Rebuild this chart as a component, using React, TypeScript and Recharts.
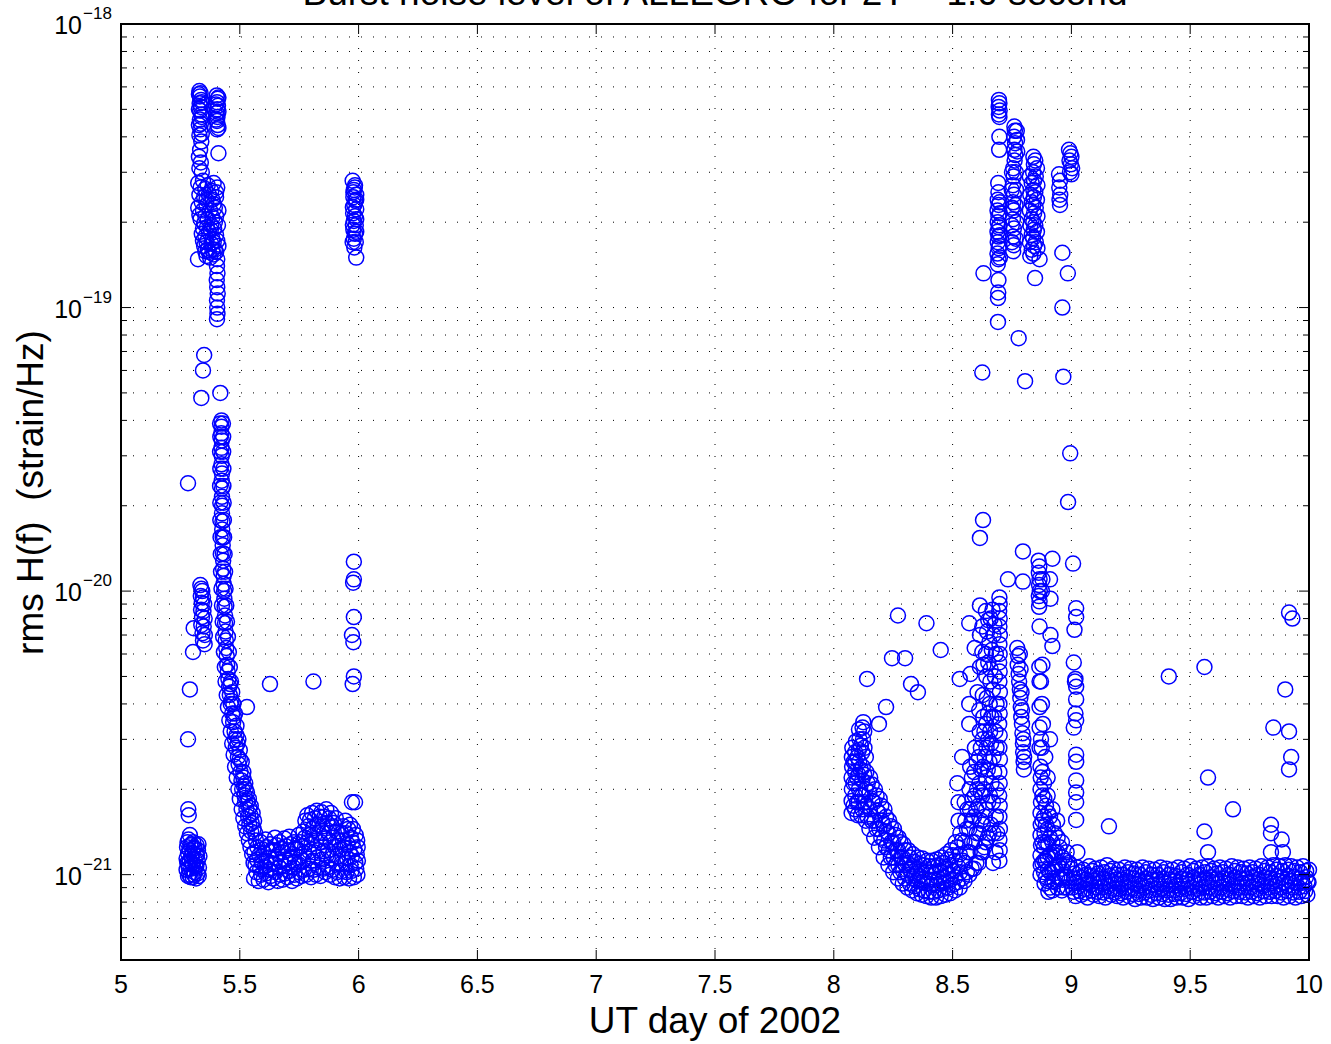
import React from 'react';
import { ScatterChart, Scatter, XAxis, YAxis, CartesianGrid, ReferenceArea } from 'recharts';

// plot box in page pixels
const LEFT = 121;
const RIGHT = 1309;
const TOP = 24;
const BOTTOM = 960;
const FONT = '"Liberation Sans", Arial, Helvetica, sans-serif';

// rms H(f) values below are in units of 1e-21 strain/Hz
const UNIT = 1e-21;

const xTicks = [5, 5.5, 6, 6.5, 7, 7.5, 8, 8.5, 9, 9.5, 10];
const yTicks = [
  5e-22, 6e-22, 7e-22, 8e-22, 9e-22,
  1e-21, 2e-21, 3e-21, 4e-21, 5e-21, 6e-21, 7e-21, 8e-21, 9e-21,
  1e-20, 2e-20, 3e-20, 4e-20, 5e-20, 6e-20, 7e-20, 8e-20, 9e-20,
  1e-19, 2e-19, 3e-19, 4e-19, 5e-19, 6e-19, 7e-19, 8e-19, 9e-19,
  1e-18,
];

// day 5 - 6
const earlyBottom = [[5.276,1.04],[5.276,1.14],[5.278,1.25],[5.282,0.99],[5.283,1.09],[5.282,1.19],[5.284,1.33],[5.288,1.0],[5.29,1.12],[5.289,1.22],[5.29,1.38],[5.295,1.05],[5.296,1.16],[5.297,1.28],[5.302,0.98],[5.303,1.08],[5.302,1.19],[5.304,1.3],[5.309,1.02],[5.31,1.13],[5.31,1.24],[5.316,0.97],[5.317,1.07],[5.316,1.17],[5.318,1.27],[5.322,1.01],[5.323,1.12],[5.324,1.22],[5.328,1.06],[5.33,1.16],[5.279,1.1],[5.286,1.05],[5.292,1.27],[5.299,1.1],[5.306,1.24],[5.313,1.08],[5.32,1.17],[5.326,1.28],[5.28,1.3],[5.293,0.98],[5.307,1.0],[5.327,0.99]];
const earlyStragglers = [[5.283,1.7],[5.285,1.62],[5.282,3.0],[5.29,4.5],[5.303,6.1],[5.306,7.4],[5.282,24],[5.338,48],[5.418,50],[5.35,68],[5.345,60],[5.324,148],[5.53,3.9],[5.627,4.7],[5.81,4.8]];
const earlyMid = [[5.334,10.5],[5.338,10.2],[5.342,10.0],[5.336,9.6],[5.345,9.5],[5.34,9.1],[5.35,9.0],[5.337,8.6],[5.347,8.5],[5.341,8.1],[5.352,8.0],[5.338,7.6],[5.348,7.5],[5.343,7.1],[5.353,7.0],[5.345,6.7],[5.352,6.5]];
const earlyTopLeft = [[5.33,580],[5.335,570],[5.332,555],[5.337,540],[5.331,525],[5.336,510],[5.333,495],[5.338,480],[5.332,460],[5.336,445],[5.334,425],[5.33,405],[5.338,385],[5.333,360],[5.328,340],[5.336,325],[5.33,310],[5.34,300],[5.328,565],[5.34,530],[5.328,500],[5.34,470],[5.328,440],[5.34,410]];
const earlyTopRight = [[5.403,560],[5.407,545],[5.404,530],[5.408,515],[5.405,500],[5.402,485],[5.406,470],[5.404,455],[5.407,440],[5.405,425],[5.41,350],[5.41,550],[5.4,520],[5.41,490],[5.4,460],[5.41,430]];
const earlyMass = [[5.325,275],[5.345,280],[5.365,270],[5.39,275],[5.405,265],[5.33,250],[5.35,245],[5.37,250],[5.385,240],[5.4,245],[5.325,225],[5.345,220],[5.36,230],[5.375,220],[5.395,225],[5.41,220],[5.335,205],[5.35,198],[5.365,205],[5.38,195],[5.395,200],[5.408,195],[5.34,182],[5.355,178],[5.37,185],[5.385,175],[5.4,180],[5.35,165],[5.365,160],[5.38,168],[5.395,160],[5.41,165],[5.36,152],[5.375,150],[5.39,154],[5.405,148],[5.335,265],[5.355,262],[5.38,258],[5.4,255],[5.34,235],[5.36,240],[5.39,232],[5.33,212],[5.355,210],[5.385,208],[5.4,210],[5.345,190],[5.362,192],[5.378,188],[5.392,190],[5.345,172],[5.36,170],[5.39,170],[5.405,172],[5.355,158],[5.37,157],[5.385,160],[5.4,157]];
const earlyTail = [[5.404,140],[5.406,132],[5.403,125],[5.405,118],[5.407,112],[5.404,106],[5.405,100],[5.406,95],[5.404,91]];
const decayFive = [[5.423,40],[5.423,38],[5.422,36],[5.424,34],[5.423,32],[5.424,30],[5.423,28],[5.425,26],[5.424,24.5],[5.425,23],[5.425,21.5],[5.426,20],[5.425,18.8],[5.427,17.6],[5.426,16.5],[5.428,15.5],[5.428,14.5],[5.429,13.6],[5.43,12.8],[5.43,12],[5.432,11.3],[5.432,10.6],[5.434,10],[5.435,9.4],[5.436,8.8],[5.438,8.2],[5.438,7.7],[5.44,7.2],[5.441,6.7],[5.443,6.3],[5.445,5.9],[5.447,5.5],[5.449,5.2],[5.452,4.9],[5.455,4.6],[5.46,4.7],[5.458,4.3],[5.465,4.1],[5.462,4.0],[5.468,3.7],[5.475,3.6],[5.472,3.45],[5.478,3.2],[5.486,3.1],[5.48,3.0],[5.49,2.9],[5.483,2.8],[5.492,2.6],[5.5,2.55],[5.495,2.45],[5.503,2.3],[5.507,2.15],[5.515,2.2],[5.51,2.0],[5.518,2.05],[5.525,2.0],[5.52,1.9],[5.522,1.8],[5.532,1.82],[5.528,1.7],[5.54,1.72],[5.535,1.6],[5.545,1.62],[5.54,1.5],[5.55,1.52],[5.548,1.42],[5.558,1.45]];
const decayFiveEdges = [[5.417,39],[5.418,35],[5.417,31],[5.418,27],[5.417,23.5],[5.418,20.5],[5.418,17.8],[5.419,15.5],[5.42,13.5],[5.421,11.7],[5.423,10.2],[5.425,8.9],[5.428,7.8],[5.43,6.9],[5.433,6.1],[5.437,5.4],[5.44,4.8],[5.445,4.3],[5.45,3.9],[5.456,3.5],[5.462,3.2],[5.468,2.9],[5.474,2.65],[5.48,2.4],[5.487,2.2],[5.494,2.0],[5.5,1.85],[5.508,1.7],[5.515,1.58],[5.523,1.48],[5.53,1.4],[5.538,1.32],[5.545,1.25],[5.552,1.18],[5.558,1.1],[5.429,39],[5.43,35],[5.43,31],[5.431,27],[5.431,23.5],[5.432,20.5],[5.433,17.8],[5.434,15.5],[5.436,13.5],[5.438,11.7],[5.44,10.2],[5.443,8.9],[5.446,7.8],[5.45,6.9],[5.454,6.1],[5.458,5.4],[5.463,4.8],[5.468,4.4],[5.473,4.0],[5.48,3.7],[5.486,3.35],[5.494,3.0],[5.5,2.75],[5.508,2.5],[5.515,2.3],[5.523,2.1],[5.53,1.95],[5.538,1.85],[5.546,1.75],[5.554,1.65],[5.56,1.55],[5.565,1.4]];
const bandFive = [[5.56,0.97],[5.566,1.08],[5.562,1.2],[5.568,1.32],[5.58,0.95],[5.586,1.05],[5.582,1.17],[5.588,1.3],[5.6,0.96],[5.606,1.07],[5.602,1.19],[5.608,1.33],[5.62,0.94],[5.626,1.04],[5.622,1.15],[5.628,1.28],[5.64,0.97],[5.646,1.09],[5.642,1.22],[5.648,1.35],[5.66,0.95],[5.666,1.06],[5.662,1.18],[5.668,1.3],[5.68,0.96],[5.686,1.07],[5.682,1.2],[5.688,1.34],[5.7,0.98],[5.706,1.1],[5.702,1.22],[5.708,1.36],[5.72,0.95],[5.726,1.06],[5.722,1.18],[5.728,1.3],[5.74,0.97],[5.746,1.09],[5.742,1.23],[5.748,1.38],[5.76,0.99],[5.766,1.12],[5.762,1.26],[5.768,1.42],[5.78,1.0],[5.786,1.14],[5.782,1.3],[5.788,1.48],[5.784,1.62],[5.8,0.98],[5.806,1.12],[5.802,1.28],[5.808,1.46],[5.804,1.65],[5.82,1.0],[5.826,1.15],[5.822,1.32],[5.828,1.5],[5.824,1.68],[5.84,0.99],[5.846,1.13],[5.842,1.3],[5.848,1.48],[5.844,1.66],[5.86,1.02],[5.866,1.17],[5.862,1.34],[5.868,1.52],[5.864,1.7],[5.88,1.0],[5.886,1.14],[5.882,1.3],[5.888,1.48],[5.884,1.65],[5.9,0.98],[5.906,1.1],[5.902,1.25],[5.908,1.42],[5.904,1.58],[5.92,0.97],[5.926,1.09],[5.922,1.23],[5.928,1.4],[5.94,0.98],[5.946,1.1],[5.942,1.24],[5.948,1.4],[5.944,1.55],[5.96,0.97],[5.966,1.08],[5.962,1.2],[5.968,1.35],[5.964,1.5],[5.98,0.98],[5.986,1.1],[5.982,1.23],[5.988,1.38],[5.972,1.8],[5.985,1.8],[5.995,1.0],[5.997,1.12],[5.996,1.25]];
const bandFiveFill = [[5.57,1.02],[5.572,1.13],[5.574,1.25],[5.59,1.0],[5.592,1.11],[5.594,1.23],[5.61,1.01],[5.612,1.12],[5.614,1.25],[5.63,0.99],[5.632,1.1],[5.634,1.22],[5.65,1.02],[5.652,1.14],[5.654,1.27],[5.67,1.0],[5.672,1.11],[5.674,1.24],[5.69,1.01],[5.692,1.13],[5.694,1.26],[5.71,1.03],[5.712,1.15],[5.714,1.28],[5.73,1.0],[5.732,1.11],[5.734,1.24],[5.75,1.02],[5.752,1.15],[5.754,1.3],[5.77,1.04],[5.772,1.19],[5.774,1.35],[5.776,1.55],[5.79,1.05],[5.792,1.21],[5.794,1.38],[5.796,1.56],[5.81,1.04],[5.812,1.2],[5.814,1.38],[5.816,1.58],[5.83,1.06],[5.832,1.22],[5.834,1.4],[5.836,1.6],[5.85,1.05],[5.852,1.21],[5.854,1.4],[5.856,1.6],[5.87,1.06],[5.872,1.22],[5.874,1.4],[5.876,1.58],[5.89,1.04],[5.892,1.18],[5.894,1.35],[5.896,1.52],[5.91,1.02],[5.912,1.16],[5.914,1.32],[5.93,1.03],[5.932,1.16],[5.934,1.32],[5.936,1.48],[5.95,1.02],[5.952,1.14],[5.954,1.28],[5.956,1.45],[5.97,1.03],[5.972,1.16],[5.974,1.3],[5.976,1.45],[5.99,1.05],[5.992,1.18],[5.994,1.32]];
const sixUpper = [[5.975,280],[5.985,270],[5.98,260],[5.99,250],[5.978,245],[5.986,238],[5.982,230],[5.99,222],[5.977,215],[5.985,210],[5.98,202],[5.988,195],[5.978,188],[5.985,182],[5.98,175],[5.988,170],[5.982,163],[5.99,150],[5.984,265],[5.978,255],[5.99,240],[5.976,226],[5.99,205],[5.976,196],[5.99,185],[5.975,170]];
const sixLower = [[5.98,12.7],[5.98,11.0],[5.977,10.7],[5.98,8.1],[5.972,7.0],[5.978,6.6],[5.98,5.0],[5.975,4.7]];

// day 8 - 10
const riseEight = [[8.075,1.65],[8.075,1.82],[8.076,2.0],[8.075,2.2],[8.077,2.4],[8.076,2.6],[8.078,2.8],[8.09,1.7],[8.09,1.9],[8.092,2.1],[8.09,2.3],[8.091,2.5],[8.09,2.7],[8.093,2.95],[8.105,1.8],[8.106,2.0],[8.104,2.25],[8.107,2.5],[8.105,2.75],[8.108,3.0],[8.106,3.25],[8.12,1.7],[8.121,1.9],[8.12,2.15],[8.122,2.4],[8.12,2.7],[8.123,3.0],[8.121,3.3],[8.124,3.45],[8.135,1.55],[8.136,1.75],[8.134,2.0],[8.137,2.3],[8.135,2.6],[8.083,1.75],[8.083,2.1],[8.084,2.5],[8.098,1.8],[8.098,2.2],[8.099,2.6],[8.113,1.9],[8.113,2.35],[8.114,2.85],[8.128,1.8],[8.128,2.25],[8.129,2.8],[8.128,3.2],[8.142,1.6],[8.143,2.1],[8.1,1.62],[8.115,1.62]];
const decayEight = [[8.15,1.45],[8.152,1.7],[8.15,1.95],[8.153,2.2],[8.17,1.35],[8.172,1.55],[8.17,1.8],[8.173,2.0],[8.19,1.25],[8.192,1.45],[8.19,1.65],[8.193,1.85],[8.21,1.15],[8.212,1.32],[8.21,1.5],[8.213,1.7],[8.23,1.08],[8.232,1.22],[8.23,1.4],[8.233,1.55],[8.25,1.02],[8.252,1.15],[8.25,1.3],[8.253,1.45],[8.27,0.97],[8.272,1.08],[8.27,1.22],[8.273,1.35],[8.29,0.93],[8.292,1.03],[8.29,1.15],[8.293,1.28],[8.31,0.9],[8.312,1.0],[8.31,1.1],[8.313,1.22],[8.33,0.88],[8.332,0.97],[8.33,1.07],[8.333,1.18],[8.35,0.86],[8.352,0.95],[8.35,1.05],[8.353,1.15],[8.37,0.85],[8.372,0.94],[8.37,1.03],[8.373,1.14],[8.39,0.84],[8.392,0.93],[8.39,1.02],[8.393,1.12],[8.41,0.83],[8.412,0.92],[8.41,1.02],[8.413,1.12],[8.43,0.83],[8.432,0.92],[8.43,1.02],[8.433,1.13],[8.45,0.84],[8.452,0.93],[8.45,1.03],[8.453,1.15],[8.47,0.85],[8.472,0.94],[8.47,1.05],[8.473,1.18],[8.49,0.86],[8.492,0.96],[8.49,1.08],[8.493,1.22],[8.51,0.88],[8.512,0.98],[8.51,1.12],[8.513,1.3],[8.53,0.9],[8.532,1.02],[8.53,1.18],[8.533,1.4]];
const decayEightFill = [[8.16,1.55],[8.162,1.82],[8.16,2.08],[8.18,1.45],[8.182,1.68],[8.18,1.9],[8.2,1.35],[8.202,1.55],[8.2,1.75],[8.22,1.25],[8.222,1.42],[8.22,1.6],[8.24,1.15],[8.242,1.3],[8.24,1.48],[8.26,1.08],[8.262,1.22],[8.26,1.38],[8.28,1.02],[8.282,1.15],[8.28,1.3],[8.3,0.97],[8.302,1.08],[8.3,1.22],[8.32,0.93],[8.322,1.04],[8.32,1.15],[8.34,0.91],[8.342,1.01],[8.34,1.11],[8.36,0.89],[8.362,0.99],[8.36,1.09],[8.38,0.88],[8.382,0.97],[8.38,1.08],[8.4,0.87],[8.402,0.96],[8.4,1.07],[8.42,0.87],[8.422,0.96],[8.42,1.07],[8.44,0.88],[8.442,0.97],[8.44,1.08],[8.46,0.89],[8.462,0.98],[8.46,1.1],[8.48,0.9],[8.482,1.0],[8.48,1.13],[8.5,0.92],[8.502,1.03],[8.5,1.17],[8.52,0.94],[8.522,1.07],[8.52,1.25],[8.54,0.97],[8.542,1.12],[8.54,1.32]];
const climbEight = [[8.55,0.95],[8.552,1.1],[8.55,1.3],[8.553,1.55],[8.551,1.8],[8.57,1.0],[8.572,1.2],[8.57,1.45],[8.573,1.7],[8.571,2.0],[8.574,2.4],[8.59,1.05],[8.592,1.3],[8.59,1.6],[8.593,1.9],[8.591,2.3],[8.594,2.8],[8.61,1.1],[8.612,1.4],[8.61,1.75],[8.613,2.1],[8.611,2.6],[8.614,3.2],[8.612,3.8],[8.625,1.2],[8.627,1.5],[8.625,1.9],[8.628,2.4],[8.626,3.0],[8.629,3.6],[8.627,4.3],[8.64,1.3],[8.642,1.7],[8.64,2.2],[8.643,2.8],[8.641,3.4],[8.644,4.2],[8.642,5.0],[8.655,1.4],[8.657,1.9],[8.655,2.5],[8.658,3.2],[8.656,4.0],[8.659,4.8],[8.67,1.1],[8.672,1.4],[8.67,1.8],[8.675,2.3],[8.68,1.2],[8.682,1.6]];
const climbEightFill = [[8.56,1.02],[8.562,1.2],[8.56,1.45],[8.563,1.7],[8.58,1.05],[8.582,1.3],[8.58,1.55],[8.583,1.85],[8.581,2.2],[8.6,1.1],[8.602,1.4],[8.6,1.7],[8.603,2.0],[8.601,2.5],[8.618,1.2],[8.62,1.55],[8.618,1.95],[8.62,2.35],[8.619,2.8],[8.633,1.25],[8.635,1.6],[8.633,2.0],[8.635,2.6],[8.634,3.2],[8.648,1.35],[8.65,1.8],[8.648,2.35],[8.65,3.0],[8.649,3.7],[8.662,1.5],[8.664,2.1],[8.662,2.9],[8.663,3.6]];
const climbEightTop = [[8.63,5.5],[8.66,5.3],[8.67,4.5],[8.665,6.2],[8.672,7.0],[8.66,8.0],[8.675,3.6],[8.685,2.8],[8.68,3.2],[8.686,2.0],[8.688,1.4],[8.672,2.6],[8.685,4.0],[8.678,5.0],[8.668,8.6],[8.682,6.0],[8.676,7.6]];
const needle = [[8.697,9.5],[8.698,9.0],[8.696,8.5],[8.698,8.0],[8.697,7.5],[8.699,7.0],[8.697,6.5],[8.698,6.0],[8.696,5.6],[8.698,5.2],[8.697,4.8],[8.699,4.4],[8.697,4.0],[8.698,3.7],[8.696,3.4],[8.698,3.1],[8.697,2.8],[8.699,2.55],[8.697,2.3],[8.698,2.1],[8.696,1.9],[8.698,1.75],[8.697,1.6],[8.699,1.45],[8.697,1.33],[8.698,1.22],[8.697,1.12]];
const column878 = [[8.772,6.3],[8.776,5.9],[8.774,5.5],[8.778,5.1],[8.78,4.8],[8.783,4.5],[8.785,4.2],[8.787,3.9],[8.789,3.6],[8.792,3.4],[8.794,3.15],[8.796,2.9],[8.797,2.7],[8.799,2.5],[8.8,2.35],[8.783,6.0],[8.786,5.3],[8.79,4.4],[8.792,3.8],[8.798,3.0],[8.801,2.6]];
const column887 = [[8.862,12.8],[8.865,12.2],[8.863,11.6],[8.866,11.0],[8.864,10.5],[8.867,10.0],[8.863,9.6],[8.866,9.2],[8.864,8.8],[8.878,11.0],[8.876,10.0],[8.866,7.5],[8.912,7.0],[8.92,6.4],[8.91,11.0],[8.912,9.4],[8.865,5.4],[8.866,4.8],[8.866,3.9],[8.866,3.3],[8.866,2.8],[8.91,3.0]];
const dropNine = [[8.87,2.4],[8.871,2.2],[8.87,2.0],[8.872,1.8],[8.87,1.65],[8.871,1.5],[8.87,1.38],[8.872,1.27],[8.87,1.17],[8.871,1.08],[8.87,1.0],[8.885,2.1],[8.886,1.85],[8.885,1.6],[8.887,1.4],[8.885,1.25],[8.886,1.12],[8.885,1.02],[8.887,0.93],[8.9,1.9],[8.902,1.65],[8.9,1.45],[8.903,1.28],[8.9,1.15],[8.902,1.04],[8.9,0.95],[8.903,0.87],[8.92,1.7],[8.922,1.5],[8.92,1.3],[8.923,1.15],[8.92,1.04],[8.922,0.95],[8.92,0.88],[8.94,1.55],[8.942,1.35],[8.94,1.2],[8.943,1.08],[8.94,0.98],[8.942,0.9],[8.96,1.3],[8.962,1.15],[8.96,1.05],[8.963,0.96],[8.96,0.88],[8.98,1.2],[8.982,1.08],[8.98,0.98],[8.983,0.9],[8.875,2.8],[8.872,3.0],[8.88,3.4],[8.876,4.0],[8.872,4.8],[8.878,5.5],[8.89,2.6],[8.9,2.2]];
const dropNineFill = [[8.878,2.3],[8.878,1.9],[8.878,1.55],[8.878,1.3],[8.878,1.1],[8.893,1.75],[8.893,1.5],[8.893,1.3],[8.893,1.12],[8.893,0.98],[8.91,1.6],[8.91,1.35],[8.91,1.18],[8.91,1.02],[8.91,0.9],[8.93,1.4],[8.93,1.2],[8.93,1.06],[8.93,0.94],[8.95,1.25],[8.95,1.1],[8.95,0.97],[8.97,1.12],[8.97,1.0],[8.97,0.9],[8.99,1.1],[8.99,0.95]];
const columnNine = [[9.02,8.7],[9.02,8.1],[9.013,7.3],[9.01,5.6],[9.017,4.9],[9.015,4.8],[9.02,4.6],[9.02,4.15],[9.017,3.7],[9.02,3.5],[9.01,3.3],[9.02,2.65],[9.02,2.5],[9.02,2.15],[9.02,1.95],[9.02,1.8],[9.02,1.56],[9.025,1.2],[9.007,12.5],[8.986,20.6],[8.995,30.6]];
const bandNine = [[9.0,1.05],[9.012,0.97],[9.006,0.9],[9.018,0.84],[9.025,1.06],[9.037,0.98],[9.031,0.91],[9.043,0.85],[9.05,1.04],[9.062,0.96],[9.056,0.89],[9.068,0.83],[9.075,1.07],[9.087,0.99],[9.081,0.92],[9.093,0.85],[9.1,1.05],[9.112,0.97],[9.106,0.9],[9.118,0.84],[9.125,1.06],[9.137,0.97],[9.131,0.9],[9.143,0.83],[9.15,1.08],[9.162,0.99],[9.156,0.91],[9.168,0.85],[9.175,1.05],[9.187,0.96],[9.181,0.89],[9.193,0.84],[9.2,1.04],[9.212,0.96],[9.206,0.89],[9.218,0.83],[9.225,1.06],[9.237,0.98],[9.231,0.9],[9.243,0.84],[9.25,1.05],[9.262,0.97],[9.256,0.89],[9.268,0.82],[9.275,1.04],[9.287,0.95],[9.281,0.88],[9.293,0.83],[9.3,1.06],[9.312,0.97],[9.306,0.9],[9.318,0.83],[9.325,1.05],[9.337,0.96],[9.331,0.88],[9.343,0.82],[9.35,1.04],[9.362,0.96],[9.356,0.89],[9.368,0.83],[9.375,1.06],[9.387,0.97],[9.381,0.89],[9.393,0.82],[9.4,1.05],[9.412,0.96],[9.406,0.88],[9.418,0.82],[9.425,1.04],[9.437,0.95],[9.431,0.88],[9.443,0.83],[9.45,1.06],[9.462,0.97],[9.456,0.89],[9.468,0.83],[9.475,1.05],[9.487,0.96],[9.481,0.89],[9.493,0.82],[9.5,1.07],[9.512,0.98],[9.506,0.9],[9.518,0.84],[9.525,1.05],[9.537,0.96],[9.531,0.89],[9.543,0.83],[9.55,1.06],[9.562,0.97],[9.556,0.9],[9.568,0.83],[9.575,1.07],[9.587,0.98],[9.581,0.9],[9.593,0.84],[9.6,1.05],[9.612,0.97],[9.606,0.89],[9.618,0.83],[9.625,1.06],[9.637,0.97],[9.631,0.9],[9.643,0.84],[9.65,1.05],[9.662,0.96],[9.656,0.89],[9.668,0.83],[9.675,1.07],[9.687,0.98],[9.681,0.91],[9.693,0.84],[9.7,1.06],[9.712,0.97],[9.706,0.9],[9.718,0.84],[9.725,1.05],[9.737,0.97],[9.731,0.9],[9.743,0.83],[9.75,1.06],[9.762,0.98],[9.756,0.9],[9.768,0.84],[9.775,1.05],[9.787,0.96],[9.781,0.89],[9.793,0.83],[9.8,1.07],[9.812,0.98],[9.806,0.91],[9.818,0.84],[9.825,1.06],[9.837,0.97],[9.831,0.9],[9.843,0.84],[9.85,1.08],[9.862,0.99],[9.856,0.91],[9.868,0.84],[9.875,1.07],[9.887,0.98],[9.881,0.9],[9.893,0.83],[9.9,1.08],[9.912,0.99],[9.906,0.91],[9.918,0.84],[9.925,1.07],[9.937,0.98],[9.931,0.9],[9.943,0.83],[9.95,1.06],[9.962,0.97],[9.956,0.9],[9.968,0.84],[9.975,1.07],[9.987,0.98],[9.981,0.91],[9.993,0.85],[10.0,1.04],[9.998,0.94]];
const bandNineFill = [[9.013,1.01],[9.019,0.935],[9.009,0.87],[9.038,1.02],[9.044,0.94],[9.034,0.875],[9.063,1.0],[9.069,0.93],[9.059,0.865],[9.088,1.03],[9.094,0.95],[9.084,0.88],[9.113,1.01],[9.119,0.935],[9.109,0.87],[9.138,1.02],[9.144,0.935],[9.134,0.865],[9.163,1.03],[9.169,0.95],[9.159,0.875],[9.188,1.0],[9.194,0.93],[9.184,0.865],[9.213,1.0],[9.219,0.925],[9.209,0.86],[9.238,1.02],[9.244,0.94],[9.234,0.87],[9.263,1.01],[9.269,0.93],[9.259,0.855],[9.288,1.0],[9.294,0.915],[9.284,0.855],[9.313,1.02],[9.319,0.935],[9.309,0.865],[9.338,1.0],[9.344,0.92],[9.334,0.85],[9.363,1.0],[9.369,0.925],[9.359,0.86],[9.388,1.02],[9.394,0.93],[9.384,0.855],[9.413,1.0],[9.419,0.92],[9.409,0.85],[9.438,0.99],[9.444,0.915],[9.434,0.855],[9.463,1.02],[9.469,0.93],[9.459,0.86],[9.488,1.0],[9.494,0.925],[9.484,0.855],[9.513,1.03],[9.519,0.94],[9.509,0.87],[9.538,1.0],[9.544,0.925],[9.534,0.86],[9.563,1.02],[9.569,0.935],[9.559,0.865],[9.588,1.03],[9.594,0.94],[9.584,0.87],[9.613,1.01],[9.619,0.93],[9.609,0.86],[9.638,1.02],[9.644,0.935],[9.634,0.87],[9.663,1.0],[9.669,0.925],[9.659,0.86],[9.688,1.03],[9.694,0.945],[9.684,0.875],[9.713,1.02],[9.719,0.935],[9.709,0.87],[9.738,1.01],[9.744,0.935],[9.734,0.865],[9.763,1.02],[9.769,0.94],[9.759,0.87],[9.788,1.0],[9.794,0.925],[9.784,0.86],[9.813,1.03],[9.819,0.945],[9.809,0.875],[9.838,1.02],[9.844,0.935],[9.834,0.87],[9.863,1.04],[9.869,0.95],[9.859,0.875],[9.888,1.03],[9.894,0.94],[9.884,0.865],[9.913,1.04],[9.919,0.95],[9.909,0.875],[9.938,1.03],[9.944,0.94],[9.934,0.865],[9.963,1.02],[9.969,0.935],[9.959,0.87],[9.988,1.03],[9.994,0.945],[9.984,0.875]];
const scatterEight = [[8.14,4.9],[8.27,8.2],[8.39,7.7],[8.22,3.9],[8.19,3.4],[8.245,5.8],[8.3,5.8],[8.325,4.7],[8.354,4.4],[8.45,6.2],[8.615,8.9],[8.57,7.7],[8.625,7.5],[8.615,7.0],[8.593,6.3],[8.625,6.1],[8.615,5.4],[8.575,5.1],[8.53,4.9],[8.605,4.4],[8.57,4.0],[8.57,3.4],[8.54,2.6],[8.52,2.1],[8.525,1.8],[8.525,1.55],[8.628,17.8],[8.615,15.4],[8.733,11.0],[8.796,13.8],[8.796,10.8],[8.92,13.0],[8.64,8.5],[8.65,7.9],[8.645,7.2],[8.655,6.6],[8.64,6.0],[8.65,5.6]];
const scatterNine = [[9.41,5.0],[9.56,5.4],[9.575,2.2],[9.68,1.7],[9.158,1.48],[9.56,1.42],[9.575,1.2],[9.916,8.4],[9.93,8.0],[9.9,4.5],[9.85,3.3],[9.916,3.2],[9.925,2.6],[9.916,2.35],[9.84,1.5],[9.84,1.4],[9.885,1.33],[9.89,1.2],[9.84,1.2]];
const upper869 = [[8.695,540],[8.697,525],[8.694,510],[8.698,495],[8.695,480],[8.697,470],[8.697,400],[8.696,360],[8.692,275],[8.693,255],[8.69,240],[8.694,230],[8.689,220],[8.693,210],[8.69,200],[8.694,192],[8.689,185],[8.693,178],[8.69,170],[8.694,162],[8.689,155],[8.693,148],[8.69,142],[8.693,125],[8.692,113],[8.691,108],[8.691,89],[8.698,235],[8.699,215],[8.697,195],[8.699,180],[8.697,165],[8.699,150]];
const upper876 = [[8.76,435],[8.762,420],[8.759,400],[8.763,380],[8.76,360],[8.764,345],[8.761,330],[8.755,310],[8.757,290],[8.754,270],[8.758,250],[8.755,235],[8.757,220],[8.754,205],[8.758,190],[8.755,178],[8.757,166],[8.755,158],[8.766,300],[8.767,260],[8.765,230],[8.768,200],[8.766,175],[8.77,420],[8.771,390],[8.772,355],[8.75,300],[8.749,260],[8.75,225],[8.749,195],[8.75,170]];
const upper884 = [[8.84,340],[8.842,320],[8.839,300],[8.843,280],[8.84,260],[8.842,245],[8.839,230],[8.843,215],[8.84,200],[8.842,188],[8.839,176],[8.843,165],[8.84,155],[8.855,310],[8.857,270],[8.855,240],[8.857,210],[8.855,185],[8.857,162],[8.825,290],[8.827,250],[8.825,220],[8.827,195],[8.825,170],[8.827,152],[8.866,148],[8.847,127],[8.848,330],[8.85,290],[8.848,255],[8.85,225],[8.848,195],[8.85,170],[8.833,275],[8.833,235],[8.833,205],[8.833,180],[8.833,160]];
const upper895 = [[8.948,295],[8.952,280],[8.949,265],[8.953,250],[8.95,240],[8.952,230]];
const upper900 = [[8.99,360],[8.996,350],[9.0,340],[8.992,330],[8.998,320],[9.003,310],[8.994,300],[9.0,295]];
const upperStray = [[8.63,132],[8.778,78],[8.625,59],[8.805,55],[8.966,57],[8.962,100],[8.962,156],[8.985,132]];

const allGroups = [
  earlyBottom, earlyStragglers, earlyMid, earlyTopLeft, earlyTopRight, earlyMass, earlyTail,
  decayFive, decayFiveEdges, bandFive, bandFiveFill, sixUpper, sixLower,
  riseEight, decayEight, decayEightFill, climbEight, climbEightFill, climbEightTop, needle, column878, column887,
  dropNine, dropNineFill, columnNine, bandNine, bandNineFill, scatterEight, scatterNine,
  upper869, upper876, upper884, upper895, upper900, upperStray,
];
const points = allGroups.flat().map(([day, h]) => ({ day, h: h * UNIT }));

function Ring(props: any) {
  if (props.cx == null || props.cy == null) return null;
  return <circle cx={props.cx} cy={props.cy} r={7.5} fill="none" stroke="#0000ff" strokeWidth={1.5} />;
}

function XTick({ x, payload }: any) {
  const v = payload.value;
  const edge = v === 5 || v === 10;
  return (
    <g>
      {!edge && (
        <>
          <line x1={x} x2={x} y1={BOTTOM} y2={BOTTOM - 10} stroke="#000" strokeWidth={1} />
          <line x1={x} x2={x} y1={TOP} y2={TOP + 10} stroke="#000" strokeWidth={1} />
        </>
      )}
      <text x={x} y={993} textAnchor="middle" fontSize={25} fill="#000" fontFamily={FONT}>{v}</text>
    </g>
  );
}

function YTick({ y, payload }: any) {
  const lg = Math.log10(payload.value);
  const exp = Math.round(lg);
  const major = Math.abs(lg - exp) < 1e-6;
  const len = major ? 10 : 6;
  return (
    <g>
      <line x1={LEFT} x2={LEFT + len} y1={y} y2={y} stroke="#000" strokeWidth={1} />
      <line x1={RIGHT - len} x2={RIGHT} y1={y} y2={y} stroke="#000" strokeWidth={1} />
      {major && (
        <>
          <text x={82} y={y + 10} textAnchor="end" fontSize={25} fill="#000" fontFamily={FONT}>10</text>
          <text x={83} y={y - 5} textAnchor="start" fontSize={17} fill="#000" fontFamily={FONT}>{'\u2212' + -exp}</text>
        </>
      )}
    </g>
  );
}

export default function App() {
  return (
    <div style={{ position: 'absolute', left: 0, top: 0, width: 1331, height: 1044, background: '#fff', overflow: 'hidden', fontFamily: FONT }}>
      <ScatterChart width={1331} height={1044} margin={{ top: 24, right: 22, bottom: 24, left: 21 }}>
        <CartesianGrid stroke="#000" strokeWidth={1} strokeDasharray="1 11" />
        <XAxis dataKey="day" type="number" domain={[5, 10]} ticks={xTicks} interval={0} tick={(p: any) => <XTick {...p} />} tickLine={false} axisLine={false} height={60} />
        <YAxis dataKey="h" type="number" scale="log" domain={[5e-22, 1e-18]} ticks={yTicks} interval={0} tick={(p: any) => <YTick {...p} />} tickLine={false} axisLine={false} width={100} />
        <ReferenceArea x1={5} x2={10} y1={5e-22} y2={1e-18} fill="none" fillOpacity={0} stroke="#000" strokeWidth={2} ifOverflow="visible" />
        <Scatter data={points} shape={Ring} isAnimationActive={false} />
      </ScatterChart>
      <div style={{ position: 'absolute', left: LEFT, width: RIGHT - LEFT, top: -26, fontSize: 37, lineHeight: '37px', textAlign: 'center', color: '#000', whiteSpace: 'pre' }}>
        Burst noise level of ALLEGRO for 2T = 1.0 second
      </div>
      <div style={{ position: 'absolute', left: LEFT, width: RIGHT - LEFT, top: 1002, fontSize: 37, lineHeight: '37px', textAlign: 'center', color: '#000' }}>
        UT day of 2002
      </div>
      <div style={{ position: 'absolute', left: -270, top: 474, width: 600, height: 37, fontSize: 37, lineHeight: '37px', textAlign: 'center', color: '#000', whiteSpace: 'pre', transform: 'rotate(-90deg)', transformOrigin: 'center' }}>
        {'rms H(f)  (strain/Hz)'}
      </div>
    </div>
  );
}
